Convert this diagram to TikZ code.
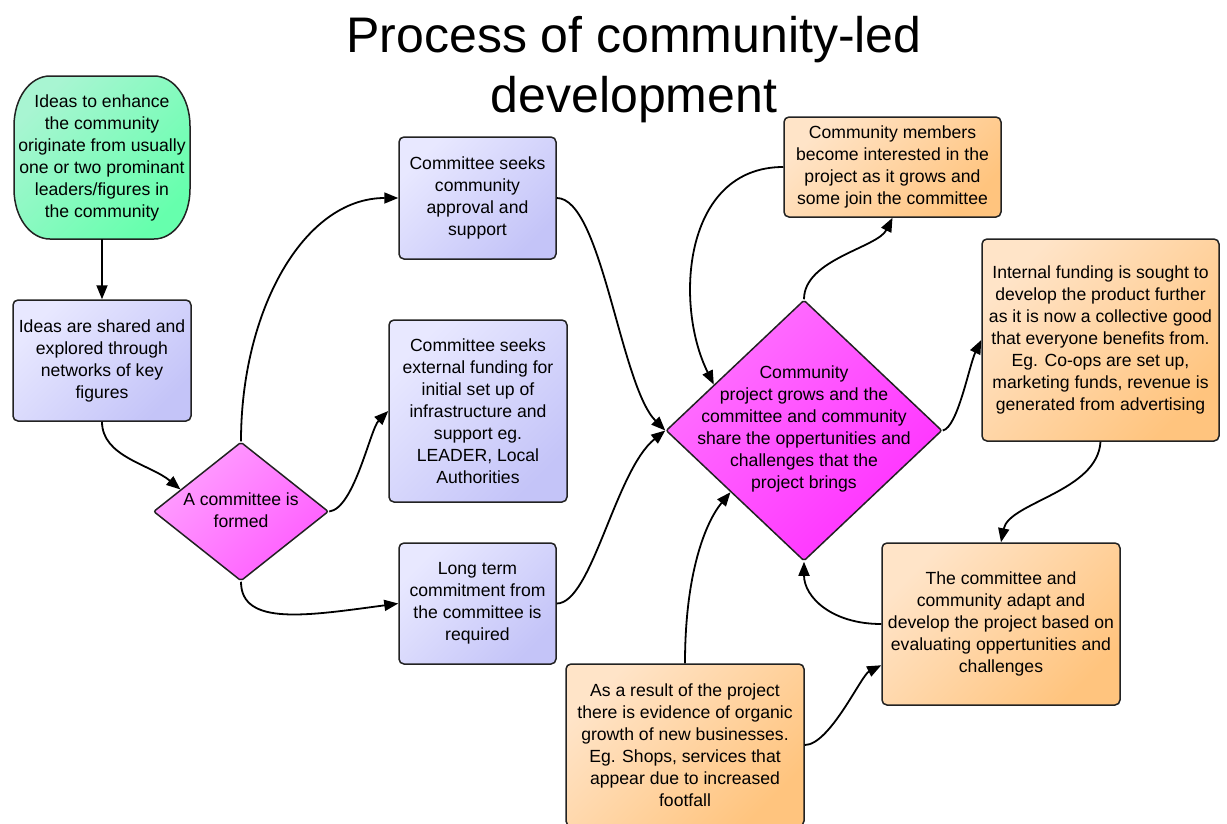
\documentclass[tikz,border=0pt]{standalone}
\usepackage{fontspec}
\setmainfont{Liberation Sans}
\usetikzlibrary{shapes.geometric,arrows.meta}
\definecolor{blueL}{HTML}{E8E8FF}
\definecolor{blueD}{HTML}{C4C4F8}
\definecolor{orL}{HTML}{FFE4C8}
\definecolor{orD}{HTML}{FFC47E}
\definecolor{grL}{HTML}{A8F5D2}
\definecolor{grD}{HTML}{66FFAD}
\definecolor{pkL}{HTML}{FFA0FF}
\definecolor{pkD}{HTML}{FF5CFF}
\definecolor{mgL}{HTML}{FF72FF}
\definecolor{mgD}{HTML}{FF30FF}
\definecolor{edgec}{HTML}{222222}
\begin{document}
\begin{tikzpicture}[x=1pt,y=-1pt,
  txt/.style={font=\fontsize{17.6}{22}\selectfont, align=center, inner sep=0pt},
  bluebox/.style={txt, draw=edgec, line width=1.5pt, rounded corners=5pt,
    top color=blueL, bottom color=blueD, shading angle=45},
  orbox/.style={txt, draw=edgec, line width=1.5pt, rounded corners=5pt,
    top color=orL, bottom color=orD, shading angle=45},
  pinkdia/.style={diamond, draw=edgec, line width=1.5pt, inner sep=0pt, rounded corners=2pt,
    top color=pkL, bottom color=pkD, shading angle=45},
  magdia/.style={diamond, draw=edgec, line width=1.5pt, inner sep=0pt, rounded corners=2pt,
    top color=mgL, bottom color=mgD, shading angle=45},
  conn/.style={line width=1.8pt, -{Triangle[length=14pt,width=11pt]}},
  titlef/.style={font=\fontsize{50}{60}\selectfont, inner sep=0pt}
]
\useasboundingbox (0,0) rectangle (1227,823);
\clip (0,0) rectangle (1227,823);

% title
\node[titlef, anchor=base] (title1) at (634,52) {Process of community-led};
\node[titlef, anchor=base] (title2) at (634,112) {development};

% green start shape
\path[draw=edgec, line width=1.5pt, top color=grL, bottom color=grD, shading angle=45]
  (14,126) .. controls (14,98) and (30,76) .. (50,76) -- (154,76)
  .. controls (174,76) and (190,98) .. (190,126) -- (190,189)
  .. controls (190,217) and (174,239) .. (154,239) -- (50,239)
  .. controls (30,239) and (14,217) .. (14,189) -- cycle;
\node[txt, minimum width=176pt, minimum height=163pt] (n1) at (102,157.5)
  {Ideas to enhance\\the community\\originate from usually\\one or two prominant\\leaders/figures in\\the community};

\node[bluebox, minimum width=178pt, minimum height=121pt] (n2) at (102,360.5)
  {Ideas are shared and\\explored through\\networks of key\\figures};

\node[pinkdia, minimum width=175pt, minimum height=139pt] (d1) at (241,511.5) {};
\node[txt] (d1t) at (241,510) {A committee is\\formed};

\node[bluebox, minimum width=157pt, minimum height=122pt] (n4) at (477.5,198)
  {Committee seeks\\community\\approval and\\support};
\node[bluebox, minimum width=178pt, minimum height=182pt] (n5) at (478,411)
  {Committee seeks\\external funding for\\initial set up of\\infrastructure and\\support eg.\\LEADER, Local\\Authorities};
\node[bluebox, minimum width=157pt, minimum height=121pt] (n6) at (477.5,603.5)
  {Long term\\commitment from\\the committee is\\required};

\node[magdia, minimum width=276pt, minimum height=261pt] (d2) at (804,430.5) {};
\node[txt] (d2t) at (804,429)
  {Community\\project grows and the\\committee and community\\share the oppertunities and\\challenges that the\\project brings};

\node[orbox, minimum width=217pt, minimum height=100pt] (n8) at (892.5,167)
  {Community members\\become interested in the\\project as it grows and\\some join the committee};
\node[orbox, minimum width=237pt, minimum height=202pt] (n9) at (1100.5,340)
  {Internal funding is sought to\\develop the product further\\as it is now a collective good\\that everyone benefits from.\\Eg. Co-ops are set up,\\marketing funds, revenue is\\generated from advertising};
\node[orbox, minimum width=238pt, minimum height=162pt] (n10) at (1001,624)
  {The committee and\\community adapt and\\develop the project based on\\evaluating oppertunities and\\challenges};
\node[orbox, minimum width=238pt, minimum height=162pt] (n11) at (685,745)
  {As a result of the project\\there is evidence of organic\\growth of new businesses.\\Eg. Shops, services that\\appear due to increased\\footfall};

% connectors
\draw[conn] (n1.south) -- (n2.north);
\draw[conn] (n2.south) .. controls +(0,35) and +(-30,-25) .. (d1.160);
\draw[conn] (d1.north) .. controls +(0,-130) and +(-95,0) .. (n4.west);
\draw[conn] (d1.east) .. controls +(25,-3) and +(-18,18) .. (n5.west);
\draw[conn] (d1.south) .. controls +(0,45) and +(-90,12) .. (n6.west);
\draw[conn] (n4.east) .. controls +(45,0) and +(-45,-45) .. (d2.west);
\draw[conn] (n6.east) .. controls +(35,0) and +(-50,40) .. (d2.west);
\draw[conn] (d2.north) .. controls +(0,-40) and +(-15,30) .. (n8.south);
\draw[conn] (n8.west) .. controls +(-100,0) and +(-40,-80) .. (d2.153);
\draw[conn] (d2.east) .. controls +(15,-3) and +(-12,25) .. (n9.west);
\draw[conn] (n9.south) .. controls +(-3,50) and +(8,-40) .. (n10.north);
\draw[conn] (n10.west) .. controls +(-50,0) and +(0,35) .. (d2.south);
\draw[conn] (n11.north) .. controls +(0,-90) and +(-25,30) .. (d2.220);
\draw[conn] (n11.east) .. controls +(25,0) and +(-20,10) .. (n10.199);
\end{tikzpicture}
\end{document}
